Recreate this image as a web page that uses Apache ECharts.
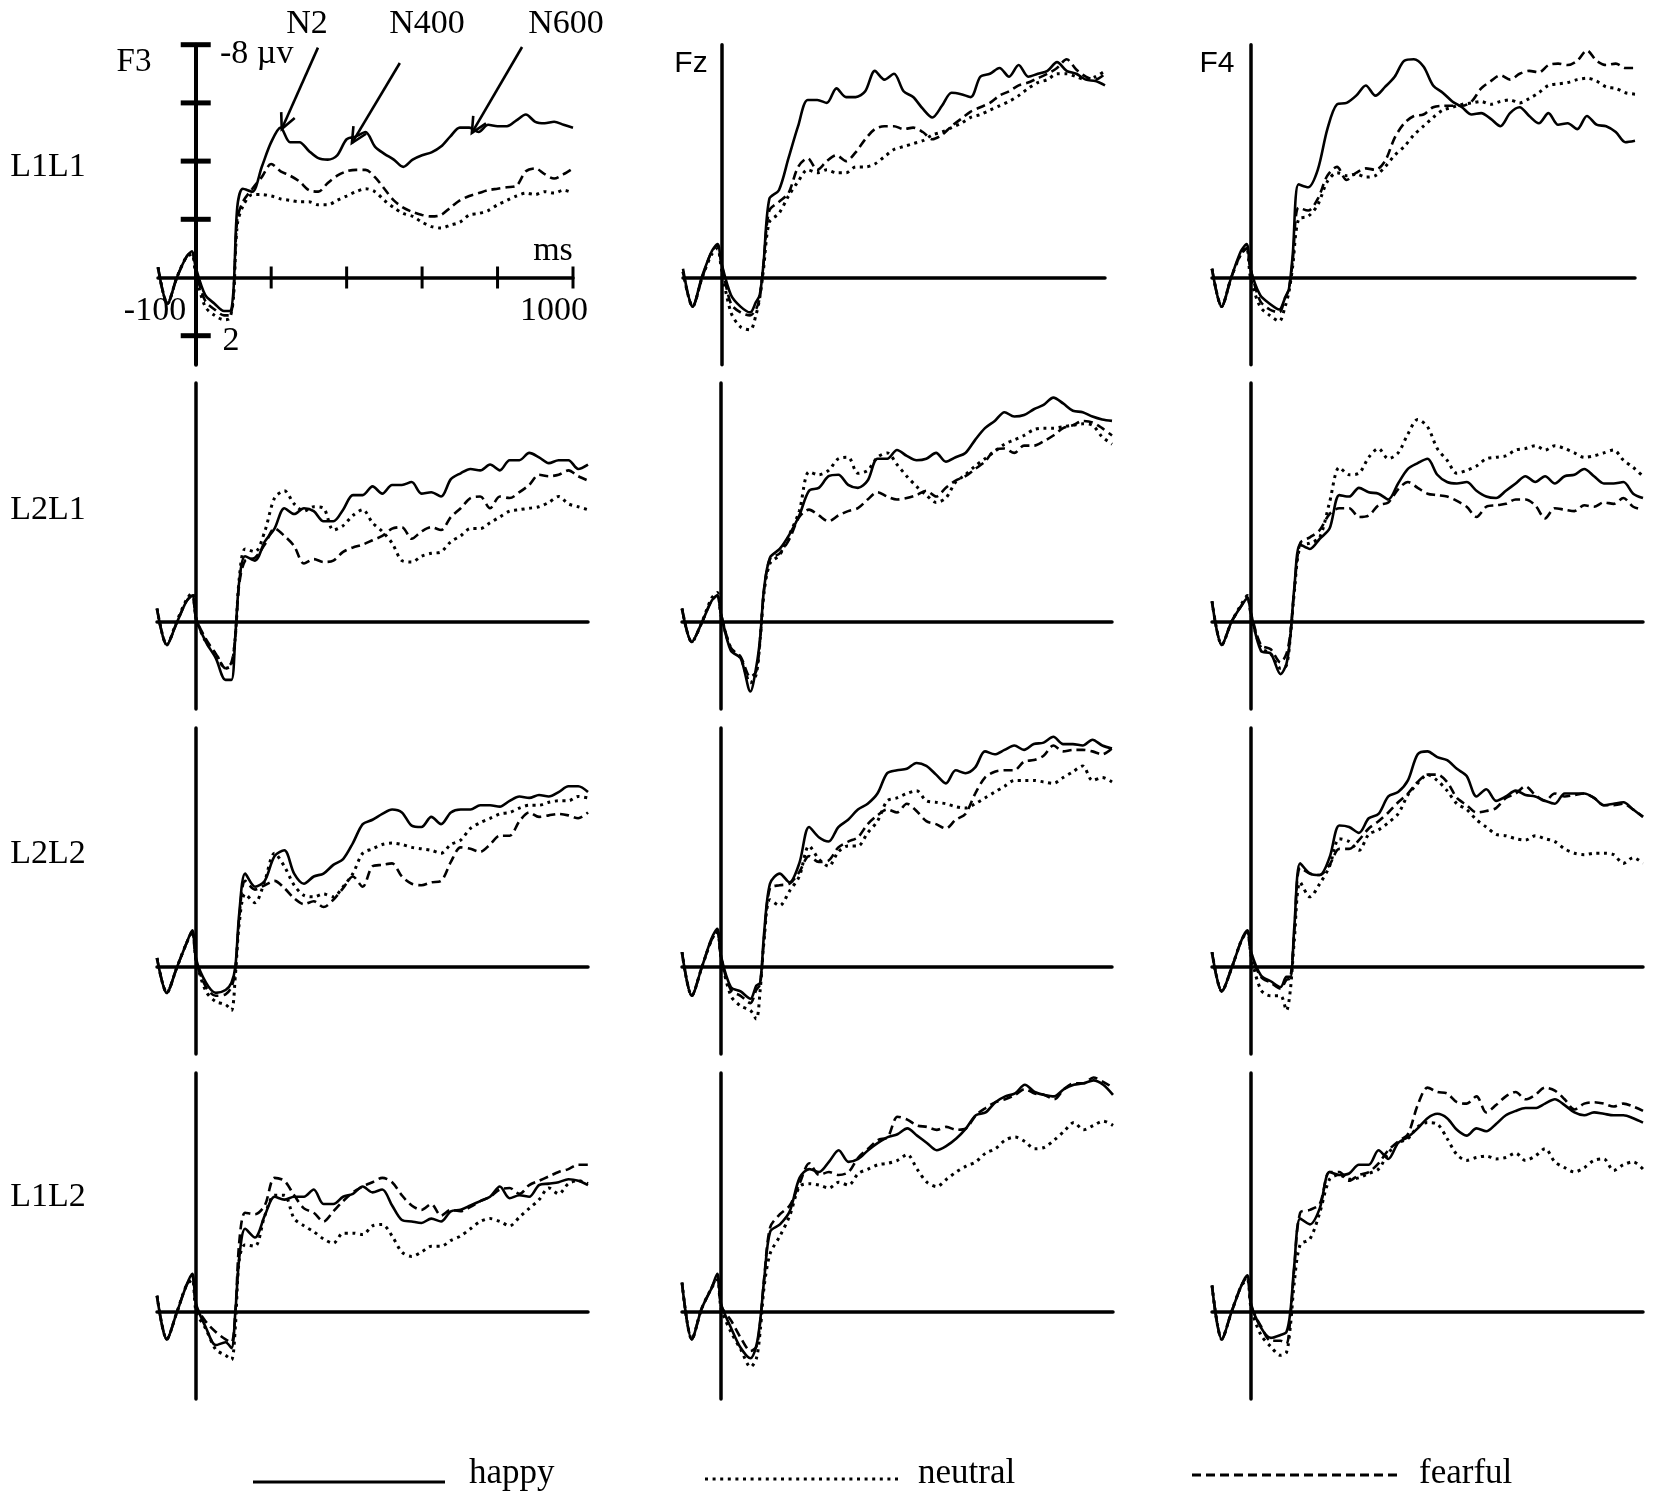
<!DOCTYPE html>
<html>
<head>
<meta charset="utf-8">
<title>ERP waveforms F3 / Fz / F4</title>
<style>
  html, body { margin: 0; padding: 0; background: #fff; }
  #chart { width: 1654px; height: 1502px; }
</style>
<script src="https://cdn.jsdelivr.net/npm/echarts@6/dist/echarts.min.js"></script>
</head>
<body>
<div id="chart"></div>
<script>
// sample times (ms)
var times = [-100,-75,-50,-25,-10,0,25,50,75,90,100,110,125,150,175,200,225,250,275,300,325,350,375,400,425,450,475,500,525,550,575,600,625,650,675,700,725,750,775,800,825,850,875,900,925,950,975,1000];
var electrodes = ['F3', 'Fz', 'F4'];
var conditions = ['L1L1', 'L2L1', 'L2L2', 'L1L2'];
var emotions = ['happy', 'neutral', 'fearful'];

// amplitudes in µV (negative plotted upwards)
var f3L1L1Happy = [-0.35,0.9,0,-0.7,-0.9,-0.35,0.6,0.9,1.15,1.15,0.45,-2.4,-3.05,-2.95,-3.8,-4.65,-5.15,-4.65,-4.65,-4.35,-4.1,-4.05,-4.2,-4.75,-4.85,-5.0,-4.5,-4.25,-4.05,-3.8,-4.05,-4.2,-4.3,-4.5,-4.85,-5.15,-5.15,-5.0,-5.25,-5.2,-5.2,-5.4,-5.6,-5.35,-5.3,-5.35,-5.25,-5.15];
var f3L1L1Neutral = [-0.35,0.9,0,-0.7,-0.8,-0.1,1.0,1.3,1.45,1.4,0.7,-1.8,-2.45,-2.85,-2.85,-2.8,-2.7,-2.65,-2.6,-2.6,-2.5,-2.5,-2.65,-2.8,-2.95,-3.05,-2.95,-2.65,-2.4,-2.2,-2.1,-1.9,-1.75,-1.7,-1.8,-1.9,-2.15,-2.2,-2.3,-2.5,-2.65,-2.8,-2.9,-2.85,-2.95,-2.9,-3.0,-2.9];
var f3L1L1Fearful = [-0.35,0.9,0,-0.7,-0.9,-0.2,0.8,1.1,1.3,1.3,0.6,-2.0,-2.6,-3.05,-3.45,-3.9,-3.65,-3.5,-3.3,-3.0,-2.95,-3.25,-3.5,-3.65,-3.7,-3.7,-3.45,-3.05,-2.65,-2.4,-2.25,-2.15,-2.1,-2.15,-2.4,-2.65,-2.8,-2.9,-3.0,-3.05,-3.1,-3.15,-3.65,-3.75,-3.55,-3.4,-3.55,-3.75];

var fzL1L1Happy = [-0.3,1.0,-0.05,-0.9,-1.15,-0.5,0.6,1.0,1.2,0.85,0.6,-0.5,-2.7,-3.0,-4.1,-5.2,-6.1,-6.1,-6.0,-6.5,-6.2,-6.2,-6.4,-7.1,-6.8,-7.0,-6.4,-6.2,-5.8,-5.5,-5.9,-6.35,-6.3,-6.2,-6.9,-7.0,-7.2,-6.9,-7.3,-6.9,-7.0,-7.1,-7.4,-7.1,-7.0,-6.8,-6.75,-6.6];
var fzL1L1Neutral = [-0.2,1.0,0,-0.8,-1.0,-0.3,1.2,1.7,1.8,1.3,0.7,-0.3,-1.9,-2.2,-2.8,-3.3,-3.7,-3.6,-3.7,-3.6,-3.6,-3.8,-3.8,-3.9,-4.15,-4.4,-4.5,-4.6,-4.7,-4.9,-5.0,-5.15,-5.3,-5.5,-5.6,-5.75,-5.9,-6.05,-6.25,-6.5,-6.7,-6.8,-7.0,-7.0,-6.9,-6.8,-6.9,-7.1];
var fzL1L1Fearful = [-0.2,1.0,0,-0.9,-1.1,-0.5,0.9,1.2,1.3,1.1,0.7,-0.5,-2.3,-2.6,-2.9,-3.8,-4.1,-3.7,-4.0,-4.2,-4.0,-4.3,-4.75,-5.1,-5.2,-5.2,-5.1,-5.15,-5.0,-4.75,-4.9,-5.2,-5.45,-5.7,-5.85,-6.0,-6.25,-6.4,-6.6,-6.7,-6.85,-7.0,-7.2,-7.5,-7.15,-6.9,-6.8,-7.0];

var f4L1L1Happy = [-0.3,1.0,0,-0.9,-1.15,-0.3,0.6,0.9,1.1,0.7,0.4,-0.8,-3.2,-3.1,-3.7,-5.1,-5.95,-6.0,-6.25,-6.6,-6.25,-6.55,-6.9,-7.45,-7.5,-7.25,-6.6,-6.35,-6.05,-5.85,-5.6,-5.65,-5.45,-5.2,-5.65,-5.85,-5.55,-5.3,-5.65,-5.25,-5.3,-5.1,-5.55,-5.25,-5.2,-5.0,-4.65,-4.7];
var f4L1L1Neutral = [-0.3,1.0,0,-0.8,-1.0,0,1.0,1.3,1.5,1.0,0.5,-0.4,-2.0,-2.1,-2.5,-3.3,-3.6,-3.5,-3.55,-3.45,-3.5,-3.8,-4.2,-4.5,-4.9,-5.2,-5.5,-5.75,-5.85,-5.95,-6.0,-6.05,-5.95,-6.05,-6.1,-6.0,-6.15,-6.35,-6.6,-6.65,-6.7,-6.8,-6.85,-6.75,-6.55,-6.5,-6.35,-6.3];
var f4L1L1Fearful = [-0.3,1.0,0,-0.8,-1.0,-0.3,0.8,1.1,1.2,0.7,0.4,-0.6,-2.4,-2.3,-2.7,-3.5,-3.8,-3.35,-3.6,-3.75,-3.7,-4.0,-4.8,-5.3,-5.55,-5.6,-5.85,-5.9,-5.9,-5.9,-6.05,-6.5,-6.75,-6.95,-6.8,-7.0,-7.1,-7.05,-7.3,-7.35,-7.3,-7.45,-7.8,-7.45,-7.3,-7.35,-7.2,-7.2];

var f3L2L1Happy = [-0.45,0.8,0.05,-0.7,-0.9,-0.1,0.7,1.25,2.0,2.0,0.45,-1.4,-2.25,-2.1,-2.75,-3.2,-3.9,-3.7,-3.9,-3.8,-3.45,-3.45,-3.85,-4.35,-4.35,-4.65,-4.4,-4.7,-4.7,-4.8,-4.4,-4.45,-4.3,-4.9,-5.1,-5.25,-5.2,-5.4,-5.2,-5.55,-5.55,-5.8,-5.65,-5.45,-5.55,-5.55,-5.25,-5.4];
var f3L2L1Neutral = [-0.45,0.8,0,-0.75,-1.0,-0.1,0.7,1.1,1.6,1.5,0.5,-1.5,-2.5,-2.4,-3.1,-4.25,-4.5,-4.05,-3.8,-3.95,-3.9,-3.15,-3.3,-3.65,-3.85,-3.4,-3.1,-2.7,-2.1,-2.05,-2.25,-2.35,-2.4,-2.75,-2.95,-3.2,-3.2,-3.4,-3.6,-3.8,-3.85,-3.9,-3.95,-4.1,-4.3,-4.05,-3.95,-3.85];
var f3L2L1Fearful = [-0.45,0.8,0.05,-0.7,-0.9,-0.1,0.6,1.1,1.6,1.4,0.5,-1.3,-2.1,-2.2,-2.65,-3.2,-2.95,-2.6,-2.0,-2.15,-2.05,-2.1,-2.4,-2.55,-2.65,-2.8,-2.95,-3.2,-3.25,-2.85,-3.1,-3.25,-3.15,-3.6,-3.9,-4.25,-4.3,-3.9,-4.3,-4.25,-4.45,-4.7,-5.05,-5.0,-5.05,-5.2,-5.0,-4.85];

var fzL2L1Happy = [-0.45,0.7,0.05,-0.7,-0.9,-0.25,1.0,1.25,2.4,1.55,0.55,-1.15,-2.2,-2.5,-3.0,-3.65,-4.5,-4.6,-5.0,-5.05,-4.7,-4.6,-4.85,-5.6,-5.6,-5.9,-5.7,-5.55,-5.6,-5.8,-5.5,-5.65,-5.8,-6.25,-6.65,-6.9,-7.2,-7.05,-7.1,-7.3,-7.45,-7.7,-7.5,-7.25,-7.2,-7.05,-6.95,-6.9];
var fzL2L1Neutral = [-0.45,0.7,0.05,-0.8,-1.0,-0.2,0.9,1.25,2.1,1.8,0.6,-1.0,-2.0,-2.3,-3.0,-3.8,-5.15,-5.05,-5.2,-5.6,-5.65,-5.1,-5.2,-5.65,-5.8,-5.4,-5.0,-4.65,-4.35,-4.1,-4.25,-4.8,-5.05,-5.35,-5.6,-5.85,-6.1,-6.25,-6.4,-6.6,-6.65,-6.65,-6.7,-6.75,-6.8,-6.75,-6.35,-6.1];
var fzL2L1Fearful = [-0.45,0.7,0.05,-0.7,-0.9,-0.25,0.9,1.2,1.9,1.7,0.6,-1.1,-2.15,-2.35,-2.85,-3.6,-3.85,-3.65,-3.45,-3.65,-3.8,-3.9,-4.2,-4.45,-4.3,-4.2,-4.25,-4.35,-4.5,-4.3,-4.6,-4.85,-5.0,-5.25,-5.5,-5.9,-5.95,-5.8,-6.05,-6.05,-6.2,-6.4,-6.65,-6.75,-6.9,-6.85,-6.65,-6.4];

var f4L2L1Happy = [-0.7,0.8,0,-0.55,-0.8,-0.25,1.0,1.1,1.8,1.45,0.5,-1.15,-2.65,-2.5,-2.85,-3.2,-4.35,-4.3,-4.6,-4.45,-4.4,-4.2,-4.75,-5.25,-5.45,-5.6,-5.05,-4.8,-4.75,-4.8,-4.5,-4.3,-4.25,-4.5,-4.75,-5.0,-4.8,-5.0,-4.75,-5.0,-5.05,-5.25,-5.0,-4.75,-4.75,-4.8,-4.4,-4.25];
var f4L2L1Neutral = [-0.7,0.8,0,-0.6,-0.9,-0.2,0.9,1.1,1.6,1.5,0.5,-1.0,-2.6,-2.7,-2.9,-4.1,-5.3,-5.05,-5.1,-5.65,-5.95,-5.6,-5.8,-6.45,-6.95,-6.7,-5.95,-5.55,-5.1,-5.2,-5.35,-5.6,-5.65,-5.7,-5.9,-5.95,-6.05,-5.9,-6.05,-5.95,-5.8,-5.65,-5.7,-5.8,-5.9,-5.55,-5.3,-5.0];
var f4L2L1Fearful = [-0.7,0.8,0,-0.55,-0.85,-0.25,0.8,0.95,1.4,1.1,0.4,-1.1,-2.7,-2.9,-3.15,-3.7,-3.9,-3.9,-3.6,-3.65,-4.0,-4.1,-4.55,-4.8,-4.6,-4.4,-4.35,-4.3,-4.15,-3.95,-3.6,-3.95,-4.0,-4.05,-4.2,-4.2,-4.0,-3.55,-3.9,-3.85,-3.8,-4.0,-3.95,-4.1,-4.05,-4.25,-3.95,-3.85];

var f3L2L2Happy = [-0.3,0.9,0.05,-0.8,-1.25,-0.25,0.55,0.9,0.8,0.55,0,-1.85,-3.2,-2.75,-2.95,-3.8,-4.0,-3.2,-2.85,-3.1,-3.2,-3.5,-3.7,-4.25,-4.9,-5.05,-5.25,-5.4,-5.3,-4.85,-4.8,-5.15,-4.9,-5.3,-5.4,-5.4,-5.55,-5.55,-5.5,-5.7,-5.85,-5.8,-5.9,-5.85,-6.0,-6.2,-6.2,-6.0];
var f3L2L2Neutral = [-0.3,0.9,0.05,-0.8,-1.2,-0.2,0.85,1.2,1.3,1.5,0.3,-1.5,-2.5,-2.2,-2.95,-3.9,-3.45,-2.8,-2.45,-2.4,-2.5,-2.4,-2.75,-3.2,-3.9,-4.05,-4.2,-4.25,-4.2,-4.1,-4.05,-4.0,-3.9,-4.2,-4.35,-4.75,-4.95,-5.1,-5.25,-5.3,-5.45,-5.55,-5.55,-5.65,-5.7,-5.7,-5.85,-5.8];
var f3L2L2Fearful = [-0.3,0.9,0.05,-0.8,-1.2,-0.2,0.7,1.0,0.95,0.7,0.1,-1.7,-2.95,-2.65,-2.8,-2.95,-2.7,-2.35,-2.15,-2.25,-2.05,-2.3,-2.7,-3.1,-2.75,-3.45,-3.5,-3.55,-3.1,-2.85,-2.8,-2.9,-2.95,-3.6,-4.1,-4.05,-3.95,-4.2,-4.5,-4.5,-5.0,-5.3,-5.15,-5.2,-5.25,-5.2,-5.1,-5.3];

var fzL2L2Happy = [-0.5,1.0,0.05,-0.95,-1.3,-0.35,0.7,0.85,1.1,0.65,0.55,-1.15,-2.85,-3.2,-2.9,-3.55,-4.8,-4.45,-4.3,-4.8,-5.05,-5.4,-5.6,-5.95,-6.65,-6.75,-6.8,-7.0,-6.9,-6.6,-6.3,-6.75,-6.65,-6.85,-7.4,-7.3,-7.45,-7.6,-7.45,-7.65,-7.7,-7.9,-7.65,-7.65,-7.6,-7.8,-7.6,-7.5];
var fzL2L2Neutral = [-0.5,1.0,0.05,-0.9,-1.2,-0.3,1.0,1.35,1.5,1.8,0.8,-0.9,-2.3,-2.1,-2.6,-3.1,-4.15,-3.7,-3.45,-3.95,-4.15,-4.15,-4.6,-5.0,-5.7,-5.8,-5.95,-6.05,-5.7,-5.65,-5.6,-5.5,-5.45,-5.6,-5.8,-6.0,-6.2,-6.4,-6.4,-6.4,-6.35,-6.3,-6.5,-6.7,-6.9,-6.4,-6.5,-6.35];
var fzL2L2Fearful = [-0.5,1.0,0.05,-0.9,-1.2,-0.3,0.8,1.0,1.25,0.8,0.6,-1.0,-2.7,-2.8,-2.85,-3.25,-3.8,-3.6,-3.65,-4.1,-4.3,-4.45,-4.9,-5.2,-5.4,-5.3,-5.6,-5.35,-5.0,-4.9,-4.75,-5.05,-5.25,-5.95,-6.5,-6.7,-6.75,-6.75,-7.05,-7.1,-7.25,-7.6,-7.4,-7.45,-7.45,-7.4,-7.3,-7.5];

var f4L2L2Happy = [-0.5,0.85,0.05,-0.9,-1.25,-0.5,0.3,0.5,0.7,0.35,0.35,-1.35,-3.55,-3.2,-3.15,-3.75,-4.85,-4.8,-4.6,-5.1,-5.25,-5.85,-6.0,-6.4,-7.3,-7.4,-7.2,-7.1,-6.8,-6.55,-5.85,-6.1,-5.7,-5.85,-6.05,-5.9,-5.85,-5.7,-5.6,-5.95,-5.95,-5.95,-5.8,-5.55,-5.6,-5.65,-5.4,-5.15];
var f4L2L2Neutral = [-0.5,0.85,0.05,-0.9,-1.2,-0.35,0.8,1.0,1.0,1.5,0.8,-0.9,-2.9,-2.4,-2.85,-3.45,-4.4,-4.3,-4.0,-4.55,-4.7,-4.95,-5.25,-5.9,-6.3,-6.6,-6.4,-6.05,-5.6,-5.4,-5.05,-4.8,-4.55,-4.5,-4.4,-4.35,-4.5,-4.4,-4.3,-4.05,-3.9,-3.85,-3.9,-3.9,-3.85,-3.55,-3.75,-3.55];
var f4L2L2Fearful = [-0.5,0.85,0.05,-0.9,-1.2,-0.4,0.35,0.55,0.75,0.45,0.4,-1.2,-3.4,-3.2,-3.15,-3.5,-4.05,-4.05,-4.35,-4.75,-5.0,-5.3,-5.65,-5.95,-6.35,-6.6,-6.6,-6.35,-5.8,-5.55,-5.3,-5.35,-5.45,-5.8,-5.95,-6.2,-5.9,-5.7,-5.95,-5.85,-5.9,-5.95,-5.8,-5.55,-5.55,-5.6,-5.4,-5.15];

var f3L1L2Happy = [-0.55,0.95,0.05,-0.9,-1.3,-0.25,0.55,1.15,1.05,1.25,0,-1.85,-2.85,-2.55,-3.3,-3.95,-3.85,-3.95,-3.95,-4.2,-3.7,-3.7,-3.95,-4.05,-4.3,-4.1,-4.2,-3.65,-3.15,-3.1,-3.05,-3.2,-3.1,-3.45,-3.5,-3.65,-3.8,-3.95,-4.3,-3.9,-4.0,-3.95,-4.35,-4.4,-4.45,-4.55,-4.5,-4.35];
var f3L1L2Neutral = [-0.55,0.95,0.05,-0.9,-1.1,0,0.6,1.3,1.5,1.65,0.5,-1.8,-2.3,-2.25,-3.3,-4.0,-4.0,-3.2,-2.95,-2.75,-2.5,-2.35,-2.7,-2.7,-2.65,-2.95,-3.0,-2.6,-2.05,-1.9,-2.05,-2.25,-2.25,-2.45,-2.6,-2.85,-3.1,-3.2,-3.1,-2.95,-3.25,-3.55,-3.85,-4.25,-4.05,-4.4,-4.5,-4.4];
var f3L1L2Fearful = [-0.55,0.95,0.05,-0.9,-1.2,-0.2,0.35,0.7,0.95,1.05,0,-2.4,-3.4,-3.35,-3.65,-4.6,-4.5,-4.0,-3.55,-3.4,-3.1,-3.45,-3.8,-4.1,-4.3,-4.45,-4.6,-4.45,-4.0,-3.65,-3.5,-3.7,-3.3,-3.5,-3.45,-3.6,-3.8,-3.95,-4.2,-4.25,-4.05,-4.35,-4.5,-4.65,-4.8,-4.9,-5.05,-5.05];

var fzL1L2Happy = [-1.0,0.95,-0.1,-0.8,-1.3,-0.25,0.55,1.25,1.6,1.15,0.25,-1.15,-2.75,-3.0,-3.45,-4.6,-4.9,-4.8,-5.15,-5.55,-5.15,-5.25,-5.55,-5.8,-6.0,-6.1,-6.3,-6.05,-5.8,-5.55,-5.7,-5.95,-6.3,-6.75,-6.85,-7.2,-7.4,-7.5,-7.8,-7.55,-7.45,-7.4,-7.65,-7.8,-7.85,-7.95,-7.8,-7.45];
var fzL1L2Neutral = [-1.0,0.95,-0.1,-0.8,-1.1,-0.1,0.7,1.3,1.9,1.6,0.6,-0.9,-2.0,-2.6,-3.3,-4.3,-4.4,-4.35,-4.25,-4.45,-4.35,-4.75,-4.9,-5.05,-5.1,-5.2,-5.4,-4.9,-4.45,-4.3,-4.55,-4.8,-5.0,-5.15,-5.45,-5.6,-5.9,-6.0,-5.85,-5.6,-5.65,-5.9,-6.2,-6.5,-6.25,-6.4,-6.55,-6.4];
var fzL1L2Fearful = [-1.0,0.95,-0.1,-0.8,-1.2,-0.2,0.3,0.9,1.35,1.2,0.3,-1.2,-2.9,-3.35,-3.65,-4.4,-5.1,-4.7,-4.8,-4.7,-4.8,-5.3,-5.6,-5.9,-6.0,-6.7,-6.6,-6.4,-6.35,-6.25,-6.35,-6.25,-6.3,-6.75,-7.0,-7.2,-7.3,-7.45,-7.65,-7.5,-7.45,-7.3,-7.65,-7.85,-7.85,-8.05,-7.9,-7.7];

var f4L1L2Happy = [-0.9,0.95,0,-0.9,-1.25,-0.25,0.55,0.9,0.8,0.7,0,-1.6,-3.2,-3.0,-3.55,-4.8,-4.7,-4.75,-5.05,-5.05,-5.55,-5.25,-5.8,-6.0,-6.3,-6.65,-6.8,-6.65,-6.25,-6.05,-6.3,-6.2,-6.45,-6.75,-6.9,-7.0,-7.0,-7.15,-7.3,-7.1,-6.85,-6.75,-6.85,-6.8,-6.75,-6.75,-6.65,-6.5];
var f4L1L2Neutral = [-0.9,0.95,0,-0.9,-1.1,-0.1,0.8,1.2,1.5,1.4,0.5,-1.0,-2.3,-2.5,-3.4,-4.55,-4.7,-4.55,-4.6,-4.75,-4.9,-5.45,-5.8,-5.95,-6.35,-6.5,-6.45,-5.95,-5.4,-5.2,-5.3,-5.35,-5.25,-5.3,-5.45,-5.2,-5.35,-5.6,-5.15,-4.95,-4.8,-4.95,-5.2,-5.25,-4.85,-5.05,-5.15,-4.9];
var f4L1L2Fearful = [-0.9,0.95,0,-0.9,-1.2,-0.2,0.5,1.0,1.0,1.1,0.2,-1.5,-3.4,-3.5,-3.7,-4.8,-4.8,-4.5,-4.7,-4.8,-5.1,-5.55,-5.85,-6.1,-7.1,-7.7,-7.55,-7.5,-7.2,-7.15,-7.4,-6.85,-7.1,-7.4,-7.55,-7.3,-7.45,-7.7,-7.6,-7.3,-6.95,-7.15,-7.2,-7.15,-7.05,-7.15,-7.05,-6.9];

// F3 / L1L1 scale marks
var yTickValues = [-8, -6, -4, -2, 2];
var xTickValues = [200, 400, 600, 800, 1000];

var panels = [
  [[f3L1L1Happy, f3L1L1Neutral, f3L1L1Fearful], [fzL1L1Happy, fzL1L1Neutral, fzL1L1Fearful], [f4L1L1Happy, f4L1L1Neutral, f4L1L1Fearful]],
  [[f3L2L1Happy, f3L2L1Neutral, f3L2L1Fearful], [fzL2L1Happy, fzL2L1Neutral, fzL2L1Fearful], [f4L2L1Happy, f4L2L1Neutral, f4L2L1Fearful]],
  [[f3L2L2Happy, f3L2L2Neutral, f3L2L2Fearful], [fzL2L2Happy, fzL2L2Neutral, fzL2L2Fearful], [f4L2L2Happy, f4L2L2Neutral, f4L2L2Fearful]],
  [[f3L1L2Happy, f3L1L2Neutral, f3L1L2Fearful], [fzL1L2Happy, fzL1L2Neutral, fzL1L2Fearful], [f4L1L2Happy, f4L1L2Neutral, f4L1L2Fearful]]
];

(function() {
  var ink = '#000';
  var serif = '"Liberation Serif", "DejaVu Serif", serif';
  var sans = '"Liberation Sans", "DejaVu Sans", sans-serif';

  // layout in page pixels
  var pxPerUv = 29.1;
  var yMax = 3;
  var rowZero = [277.5, 621.7, 966.7, 1311.7];
  var rowMin = [-8, -8.2, -8.2, -8.2];
  var colEdges = [
    [[158, 573], [683, 1105], [1212, 1635]],
    [[157, 588], [682, 1112], [1212, 1643]],
    [[157, 588], [682, 1112], [1212, 1643]],
    [[157, 588], [682, 1113], [1212, 1643]]
  ];
  var styles = [
    { type: 'solid', width: 2.6 },
    { type: [3, 4.6], width: 3 },
    { type: [9, 5], width: 2.6 }
  ];

  var grids = [], xAxes = [], yAxes = [], series = [];
  conditions.forEach(function(cond, r) {
    electrodes.forEach(function(el, c) {
      var g = grids.length;
      var e = colEdges[r][c];
      grids.push({
        left: e[0],
        width: e[1] - e[0],
        top: rowZero[r] + pxPerUv * rowMin[r],
        height: pxPerUv * (yMax - rowMin[r])
      });
      xAxes.push({
        type: 'value', gridIndex: g, min: -100, max: 1000,
        axisLine: { onZero: true, lineStyle: { color: ink, width: 3.5 } },
        axisTick: { show: false }, axisLabel: { show: false }, splitLine: { show: false }
      });
      yAxes.push({
        type: 'value', gridIndex: g, inverse: true, min: rowMin[r], max: yMax,
        axisLine: { onZero: true, lineStyle: { color: ink, width: g === 0 ? 4 : 3.5 } },
        axisTick: { show: false }, axisLabel: { show: false }, splitLine: { show: false }
      });
      emotions.forEach(function(emo, k) {
        var vals = panels[r][c][k];
        series.push({
          name: emo,
          type: 'line',
          xAxisIndex: g,
          yAxisIndex: g,
          data: times.map(function(t, i) { return [t, vals[i]]; }),
          showSymbol: false,
          symbol: 'none',
          smooth: 0.3,
          lineStyle: { color: ink, width: styles[k].width, type: styles[k].type },
          z: 3 - k
        });
      });
    });
  });

  var chart = echarts.init(document.getElementById('chart'), null, { renderer: 'canvas' });
  chart.setOption({
    animation: false,
    backgroundColor: '#fff',
    grid: grids,
    xAxis: xAxes,
    yAxis: yAxes,
    series: series
  });

  function px(pt) { return chart.convertToPixel({ gridIndex: 0 }, pt); }
  function seg(x1, y1, x2, y2, w, dash) {
    return { type: 'line', shape: { x1: x1, y1: y1, x2: x2, y2: y2 },
      style: { stroke: ink, lineWidth: w, lineDash: dash || null }, z: 10 };
  }
  function text(str, x, y, font, align) {
    return { type: 'text', x: x, y: y, z: 10,
      style: { text: str, font: font, fill: ink, textAlign: align || 'center', textVerticalAlign: 'middle' } };
  }

  var graphic = [];
  // crossing ticks on the F3 / L1L1 scale
  yTickValues.forEach(function(v) {
    var p = px([0, v]);
    graphic.push(seg(p[0] - 15, p[1], p[0] + 15, p[1], 5));
  });
  xTickValues.forEach(function(t) {
    var p = px([t, 0]);
    graphic.push(seg(p[0], p[1] - 11, p[0], p[1] + 11, 3));
  });

  // component arrows
  var arrows = [
    { label: 'N2', from: [324, -7.9], to: [228, -5.1] },
    { label: 'N400', from: [541, -7.37], to: [414, -4.62] },
    { label: 'N600', from: [865, -7.92], to: [732, -4.97] }
  ];
  var labelX = { N2: 307, N400: 427, N600: 566 };
  arrows.forEach(function(a) {
    var s = px(a.from), t = px(a.to);
    var dx = s[0] - t[0], dy = s[1] - t[1];
    var len = Math.sqrt(dx * dx + dy * dy);
    var ux = dx / len, uy = dy / len, h = 17, ca = Math.cos(0.45), sa = Math.sin(0.45);
    var l = [t[0] + h * (ux * ca - uy * sa), t[1] + h * (ux * sa + uy * ca)];
    var rr = [t[0] + h * (ux * ca + uy * sa), t[1] + h * (-ux * sa + uy * ca)];
    graphic.push(seg(s[0], s[1], t[0], t[1], 2.6));
    graphic.push({ type: 'polyline', shape: { points: [l, t, rr] }, z: 10,
      style: { stroke: ink, lineWidth: 2.6, fill: null } });
    graphic.push(text(a.label, labelX[a.label], 24, '34px ' + serif));
  });

  // scale labels
  graphic.push(text('-8 \u00b5v', 220, 54, '34px ' + serif, 'left'));
  graphic.push(text('ms', 553, 251, '34px ' + serif));
  graphic.push(text('-100', 155, 311, '34px ' + serif));
  graphic.push(text('1000', 554, 311, '34px ' + serif));
  graphic.push(text('2', 231, 341, '34px ' + serif));

  // electrode titles
  graphic.push(text('F3', 134, 62, '33px ' + serif));
  graphic.push(text('Fz', 691, 64, '30px ' + sans));
  graphic.push(text('F4', 1217, 64, '30px ' + sans));

  // condition labels
  var rowLabelY = [167, 510, 854, 1197];
  conditions.forEach(function(cond, r) {
    graphic.push(text(cond, 48, rowLabelY[r], '34px ' + serif));
  });

  // legend
  var legendItems = [
    { x1: 253, x2: 445, y: 1482, tx: 469, dash: null, w: 3 },
    { x1: 705, x2: 900, y: 1479, tx: 918, dash: [3, 4.6], w: 3 },
    { x1: 1192, x2: 1398, y: 1475, tx: 1419, dash: [9, 5], w: 2.8 }
  ];
  emotions.forEach(function(emo, k) {
    var it = legendItems[k];
    graphic.push(seg(it.x1, it.y, it.x2, it.y, it.w, it.dash));
    graphic.push(text(emo, it.tx, 1474, '35px ' + serif, 'left'));
  });

  chart.setOption({ graphic: graphic });
  window.addEventListener('resize', function() { chart.resize(); });
})();
</script>
</body>
</html>
